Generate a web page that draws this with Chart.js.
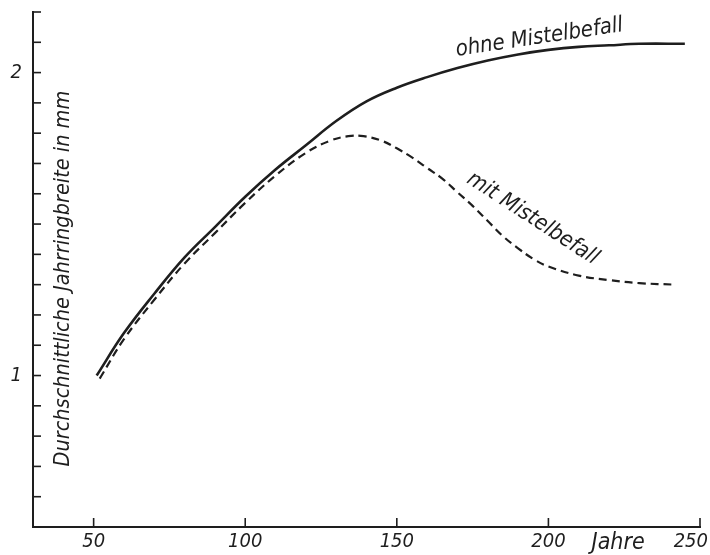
<!DOCTYPE html>
<html>
<head>
<meta charset="utf-8">
<script src="https://cdn.jsdelivr.net/npm/chart.js@4/dist/chart.umd.min.js"></script>
<style>
  html, body { margin: 0; padding: 0; background: #fff; }
  #wrap { width: 710px; height: 555px; }
</style>
</head>
<body>
<div id="wrap"><canvas id="chart" width="710" height="555"></canvas></div>
<script>
// Data
const ohneYears  = [51, 60, 70, 80, 90, 100, 110, 120, 130, 140, 150, 160, 170, 180, 190, 200, 210, 220, 230, 245];
const ohneValues = [1.00, 1.14, 1.27, 1.39, 1.49, 1.59, 1.68, 1.76, 1.84, 1.905, 1.95, 1.985, 2.015, 2.04, 2.06, 2.075, 2.085, 2.09, 2.095, 2.095];

const mitYears  = [52, 60, 70, 80, 90, 100, 110, 120, 128, 134, 139, 145, 150, 155, 160, 165, 170, 175, 180, 185, 190, 195, 200, 210, 220, 230, 242];
const mitValues = [0.99, 1.12, 1.25, 1.37, 1.47, 1.57, 1.66, 1.735, 1.775, 1.79, 1.79, 1.775, 1.75, 1.72, 1.685, 1.65, 1.605, 1.56, 1.51, 1.46, 1.42, 1.385, 1.36, 1.33, 1.315, 1.305, 1.30];

const xTickValues = [50, 100, 150, 200, 250];
const yTickLabels = [1, 2];

const FONT = "'Liberation Sans Narrow', 'DejaVu Sans Condensed', sans-serif";
const INK = '#1e1e1e';

// text annotations in data coordinates
const annotations = [
    { text: 'ohne Mistelbefall', x: 197, y: 2.115, rot: -8.5, size: 22 },
    { text: 'mit Mistelbefall', x: 194.8, y: 1.518, rot: 33, size: 22 }
];

function pts(xs, ys) {
    return xs.map((x, i) => ({ x: x, y: ys[i] }));
}

function noPad(scale) {
    scale.paddingLeft = 0;
    scale.paddingRight = 0;
    scale.paddingTop = 0;
    scale.paddingBottom = 0;
}

const decorPlugin = {
    id: 'decor',
    afterDraw(chart) {
        const ctx = chart.ctx;
        const xs = chart.scales.x;
        const ys = chart.scales.y;
        ctx.save();
        ctx.strokeStyle = INK;
        ctx.lineWidth = 1.6;
        // inward minor ticks on y axis, every 0.1
        for (let i = 5; i <= 22; i++) {
            const py = ys.getPixelForValue(i / 10);
            ctx.beginPath();
            ctx.moveTo(xs.left, py);
            ctx.lineTo(xs.left + 8, py);
            ctx.stroke();
        }
        // inward ticks on x axis
        xTickValues.forEach(v => {
            const px = xs.getPixelForValue(v);
            ctx.beginPath();
            ctx.moveTo(px, ys.bottom);
            ctx.lineTo(px, ys.bottom - 9);
            ctx.stroke();
        });

        ctx.fillStyle = INK;
        ctx.textAlign = 'center';
        ctx.textBaseline = 'middle';

        // x tick labels, kept inside the canvas
        ctx.font = 'italic 20px ' + FONT;
        xTickValues.forEach(v => {
            const label = String(v);
            const w = ctx.measureText(label).width;
            let px = xs.getPixelForValue(v);
            if (px + w / 2 > chart.width - 2) px = chart.width - 2 - w / 2;
            ctx.fillText(label, px, ys.bottom + 15);
        });

        // axis name on x
        ctx.font = 'italic 23px ' + FONT;
        ctx.fillText('Jahre', xs.getPixelForValue(223), ys.bottom + 16);

        // y title inside plot
        ctx.save();
        ctx.translate(xs.getPixelForValue(40), ys.getPixelForValue(1.32));
        ctx.rotate(-Math.PI / 2);
        ctx.font = 'italic 21.5px ' + FONT;
        ctx.fillText('Durchschnittliche Jahrringbreite in mm', 0, 0);
        ctx.restore();

        // curve labels
        annotations.forEach(a => {
            ctx.save();
            ctx.translate(xs.getPixelForValue(a.x), ys.getPixelForValue(a.y));
            ctx.rotate(a.rot * Math.PI / 180);
            ctx.font = 'italic ' + a.size + 'px ' + FONT;
            ctx.fillText(a.text, 0, 0);
            ctx.restore();
        });
        ctx.restore();
    }
};

new Chart(document.getElementById('chart'), {
    type: 'line',
    data: {
        datasets: [
            {
                label: 'ohne Mistelbefall',
                data: pts(ohneYears, ohneValues),
                borderColor: INK,
                borderWidth: 2.6,
                pointRadius: 0,
                tension: 0.4,
                fill: false
            },
            {
                label: 'mit Mistelbefall',
                data: pts(mitYears, mitValues),
                borderColor: INK,
                borderWidth: 2.2,
                borderDash: [8, 5],
                pointRadius: 0,
                tension: 0.4,
                fill: false
            }
        ]
    },
    options: {
        responsive: false,
        animation: false,
        layout: { padding: { top: 12, right: 10, left: 0, bottom: 0 } },
        plugins: {
            legend: { display: false },
            tooltip: { enabled: false }
        },
        scales: {
            x: {
                type: 'linear',
                min: 30,
                max: 250,
                afterBuildTicks: scale => { scale.ticks = xTickValues.map(v => ({ value: v })); },
                afterFit: scale => { scale.height = 28; noPad(scale); },
                grid: { display: false, drawTicks: false },
                border: { display: true, color: INK, width: 2 },
                ticks: { display: false }
            },
            y: {
                type: 'linear',
                min: 0.5,
                max: 2.2,
                afterBuildTicks: scale => { scale.ticks = yTickLabels.map(v => ({ value: v })); },
                afterFit: scale => { scale.width = 33; noPad(scale); },
                grid: { display: false, drawTicks: false },
                border: { display: true, color: INK, width: 2 },
                ticks: {
                    padding: 11,
                    color: INK,
                    font: { family: FONT, size: 20, style: 'italic' }
                }
            }
        }
    },
    plugins: [decorPlugin]
});
</script>
</body>
</html>
